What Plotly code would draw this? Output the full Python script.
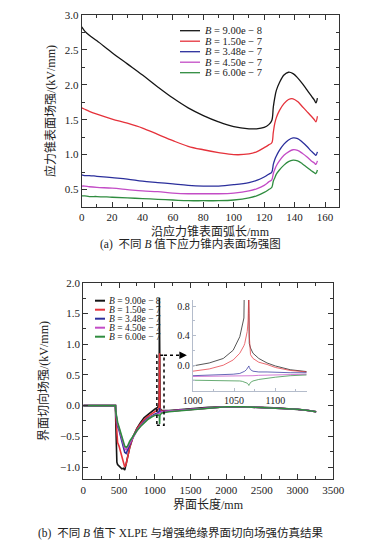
import plotly.graph_objects as go

W, H = 373, 545

# ---------------- data: (a) stress-cone surface field ----------------
B_labels = ["9.00e − 8", "1.50e − 7", "3.48e − 7", "4.50e − 7", "6.00e − 7"]
colors = ["#151515", "#e5323b", "#2b2f9c", "#c34cc6", "#2f8c3f"]

arc_mm = [0, 2, 5, 10, 20, 30, 40, 50, 60, 70, 80, 90, 100, 110, 115, 120, 123, 125,
          126, 127, 128, 130, 133, 136, 139, 142, 145, 148, 151, 153, 154, 155]
Ea_1 = [2.83, 2.77, 2.71, 2.63, 2.46, 2.30, 2.14, 1.97, 1.81, 1.67, 1.56, 1.47, 1.40, 1.37, 1.37, 1.39, 1.43, 1.49,
        1.68, 1.82, 1.92, 2.03, 2.14, 2.18, 2.16, 2.10, 2.02, 1.93, 1.84, 1.78, 1.74, 1.81]
Ea_2 = [1.67, 1.65, 1.62, 1.58, 1.51, 1.45, 1.38, 1.29, 1.20, 1.12, 1.07, 1.03, 1.00, 1.01, 1.04, 1.10, 1.14, 1.17,
        1.32, 1.45, 1.53, 1.63, 1.73, 1.79, 1.80, 1.76, 1.69, 1.62, 1.55, 1.50, 1.47, 1.55]
Ea_3 = [0.71, 0.70, 0.70, 0.69, 0.67, 0.65, 0.62, 0.60, 0.58, 0.56, 0.55, 0.55, 0.57, 0.60, 0.63, 0.68, 0.72, 0.75,
        0.86, 0.93, 0.98, 1.06, 1.15, 1.21, 1.24, 1.23, 1.18, 1.12, 1.05, 1.01, 0.99, 1.04]
Ea_4 = [0.55, 0.55, 0.54, 0.53, 0.52, 0.50, 0.48, 0.47, 0.45, 0.44, 0.44, 0.44, 0.45, 0.48, 0.51, 0.56, 0.61, 0.64,
        0.73, 0.79, 0.84, 0.91, 0.99, 1.04, 1.07, 1.06, 1.02, 0.97, 0.91, 0.88, 0.86, 0.91]
Ea_5 = [0.41, 0.41, 0.40, 0.40, 0.39, 0.38, 0.37, 0.36, 0.35, 0.34, 0.34, 0.34, 0.35, 0.38, 0.41, 0.46, 0.50, 0.53,
        0.62, 0.67, 0.72, 0.78, 0.85, 0.90, 0.92, 0.91, 0.87, 0.82, 0.77, 0.74, 0.73, 0.78]

# ---------------- data: (b) interface tangential field ----------------
len_mm = [0, 450, 455, 462, 470, 480, 500, 520, 540, 560,
          580, 600, 620, 650, 700, 750, 800, 850, 900, 950,
          1000, 1040, 1055, 1060, 1063, 1065, 1066, 1068, 1069, 1071,
          1075, 1090, 1100, 1200, 1300, 1500, 1750, 2000, 2250, 2500,
          2750, 3000, 3150, 3260]
Eb_1 = [0, 0, -0.30, -0.75, -0.92, -0.96, -0.98, -1.00, -1.03, -1.02,
        -1.05, -0.95, -0.85, -0.68, -0.50, -0.37, -0.28, -0.20, -0.15, -0.10,
        -0.06, -0.03, 0.0, 0.05, 0.30, 1.75, 1.00, 0.10, 0.0, -0.03,
        -0.05, -0.07, -0.08, -0.08, -0.07, -0.05, -0.03, -0.02, -0.02, -0.03,
        -0.04, -0.06, -0.08, -0.10]
Eb_2 = [0, 0, -0.15, -0.35, -0.55, -0.60, -0.66, -0.75, -0.85, -0.95,
        -1.00, -0.95, -0.85, -0.68, -0.50, -0.38, -0.30, -0.23, -0.18, -0.14,
        -0.10, -0.07, -0.04, -0.02, 0.10, 0.30, 0.50, 0.85, 0.30, 0.0,
        -0.06, -0.08, -0.09, -0.09, -0.08, -0.06, -0.04, -0.02, -0.02, -0.03,
        -0.04, -0.06, -0.08, -0.10]
Eb_3 = [0, 0, -0.12, -0.20, -0.28, -0.33, -0.40, -0.48, -0.58, -0.68,
        -0.76, -0.78, -0.72, -0.62, -0.50, -0.40, -0.32, -0.26, -0.21, -0.17,
        -0.14, -0.12, -0.11, -0.10, -0.09, -0.07, -0.06, -0.04, -0.06, -0.09,
        -0.10, -0.10, -0.10, -0.09, -0.08, -0.06, -0.04, -0.02, -0.02, -0.03,
        -0.04, -0.06, -0.08, -0.10]
Eb_4 = [0, 0, -0.12, -0.18, -0.25, -0.30, -0.37, -0.45, -0.54, -0.63,
        -0.70, -0.72, -0.68, -0.60, -0.50, -0.41, -0.33, -0.27, -0.22, -0.18,
        -0.15, -0.13, -0.13, -0.13, -0.13, -0.12, -0.12, -0.12, -0.12, -0.12,
        -0.11, -0.11, -0.10, -0.09, -0.08, -0.06, -0.04, -0.02, -0.02, -0.03,
        -0.04, -0.06, -0.08, -0.10]
Eb_5 = [0, 0, -0.10, -0.16, -0.22, -0.27, -0.35, -0.43, -0.52, -0.60,
        -0.66, -0.68, -0.66, -0.58, -0.49, -0.41, -0.34, -0.28, -0.23, -0.19,
        -0.16, -0.15, -0.15, -0.15, -0.16, -0.18, -0.20, -0.30, -0.22, -0.18,
        -0.15, -0.13, -0.12, -0.10, -0.09, -0.06, -0.04, -0.02, -0.02, -0.03,
        -0.04, -0.06, -0.08, -0.10]

# ---------------- data: (b) inset, zoom around 1000-1140 mm ----------------
inset_mm = [1000, 1020, 1037, 1049, 1057, 1060, 1062, 1063, 1065, 1066,
            1067, 1068, 1068.5, 1070, 1073, 1080, 1090, 1100, 1118, 1138]
Ei_1 = [0.0, 0.04, 0.10, 0.21, 0.39, 0.56, 0.64, 1.5, 1.5, 1.5,
        1.5, 0.70, 0.30, 0.24, 0.17, 0.10, 0.04, 0.0, -0.05, -0.075]
Ei_2 = [-0.07, -0.04, 0.01, 0.08, 0.17, 0.22, 0.27, 0.30, 0.40, 0.46,
        0.60, 1.0, 0.40, 0.15, 0.10, 0.05, 0.02, -0.02, -0.06, -0.08]
Ei_3 = [-0.13, -0.125, -0.12, -0.11, -0.10, -0.09, -0.08, -0.07, -0.05, -0.03,
        -0.01, 0.0, -0.02, -0.05, -0.07, -0.08, -0.08, -0.085, -0.09, -0.09]
Ei_4 = [-0.14, -0.14, -0.14, -0.135, -0.135, -0.135, -0.135, -0.13, -0.13, -0.13,
        -0.13, -0.13, -0.13, -0.13, -0.13, -0.125, -0.12, -0.12, -0.115, -0.11]
Ei_5 = [-0.19, -0.19, -0.195, -0.20, -0.20, -0.205, -0.21, -0.215, -0.22, -0.23,
        -0.24, -0.26, -0.25, -0.22, -0.20, -0.18, -0.16, -0.15, -0.13, -0.12]

zoom_box_x = [1030, 1130]
zoom_box_y = [-0.32, 0.82]
arrow_tip_x = 1450

Ea = [Ea_1, Ea_2, Ea_3, Ea_4, Ea_5]
Eb = [Eb_1, Eb_2, Eb_3, Eb_4, Eb_5]
Ei = [Ei_1, Ei_2, Ei_3, Ei_4, Ei_5]

SERIF = "Liberation Serif, Noto Sans CJK SC, serif"
CJK = "Liberation Serif, Noto Sans CJK SC, sans-serif"
AX = "#333333"


def px(x):
    return x / W


def py(y):
    return 1 - y / H


fig = go.Figure()
for vals, c in zip(Ea, colors):
    fig.add_trace(go.Scatter(x=arc_mm, y=vals, mode="lines", line=dict(color=c, width=1.3),
                             xaxis="x", yaxis="y", showlegend=False, line_shape="spline"))
for vals, c in zip(Eb, colors):
    fig.add_trace(go.Scatter(x=len_mm, y=vals, mode="lines", line=dict(color=c, width=1.6),
                             xaxis="x2", yaxis="y2", showlegend=False))
for vals, c in zip(Ei, colors):
    fig.add_trace(go.Scatter(x=inset_mm, y=vals, mode="lines", line=dict(color=c, width=0.9),
                             opacity=0.8, xaxis="x3", yaxis="y3", showlegend=False))

tickfont = dict(family=SERIF, size=11, color="#222")


def main_axis(domain, rng, dtick, minor, fmt=None, anchor=None):
    d = dict(domain=domain, range=rng, dtick=dtick, tick0=0, showline=True, linecolor=AX,
             linewidth=1.2, mirror="ticks", ticks="inside", ticklen=5, tickwidth=1, tickcolor=AX,
             minor=dict(ticks="inside", ticklen=3, dtick=minor, tickcolor=AX),
             showgrid=False, zeroline=False, tickfont=tickfont, automargin=False, anchor=anchor)
    if fmt:
        d["tickformat"] = fmt
    return d


fig.update_layout(
    width=W, height=H, margin=dict(l=0, r=0, t=0, b=0),
    paper_bgcolor="white", plot_bgcolor="white",
    xaxis=main_axis([px(81.7), px(338.7)], [0, 169], 20, 10, anchor="y"),
    yaxis=main_axis([py(207), py(15)], [0.25, 3.0], 0.5, 0.25, ".1f", anchor="x"),
    xaxis2=main_axis([px(83.3), px(333.3)], [0, 3500], 500, 250, anchor="y2"),
    yaxis2=main_axis([py(479.3), py(282.7)], [-1.2, 2.0], 0.5, 0.25, ".1f", anchor="x2"),
    xaxis3=dict(domain=[px(192.7), px(306.7)], range=[1000, 1138], anchor="y3",
                tickvals=[1000, 1050, 1100], showline=True, linecolor="#b4bccb", linewidth=1,
                ticks="inside", ticklen=3, tickcolor="#b4bccb",
                minor=dict(ticks="inside", ticklen=2, dtick=25, tick0=1000, tickcolor="#b4bccb"),
                showgrid=False, zeroline=False, tickfont=dict(family=SERIF, size=10, color="#222"),
                automargin=False),
    yaxis3=dict(domain=[py(390.7), py(300)], range=[-0.33, 0.88], anchor="x3",
                tickvals=[0.0, 0.4, 0.8], tickformat=".1f", showline=True, linecolor="#b4bccb",
                linewidth=1, ticks="inside", ticklen=3, tickcolor="#b4bccb",
                minor=dict(ticks="inside", ticklen=2, dtick=0.2, tick0=0, tickcolor="#b4bccb"),
                showgrid=False, zeroline=False, tickfont=dict(family=SERIF, size=10, color="#222"),
                automargin=False),
)

shapes = []
annotations = []

# zoom box and dotted arrow (panel b)
shapes.append(dict(type="rect", xref="x2", yref="y2", x0=zoom_box_x[0], x1=zoom_box_x[1],
                   y0=zoom_box_y[0], y1=zoom_box_y[1], line=dict(color="black", width=1.5, dash="dot")))
shapes.append(dict(type="line", xref="x2", yref="y2", x0=zoom_box_x[1], x1=arrow_tip_x - 80,
                   y0=zoom_box_y[1], y1=zoom_box_y[1], line=dict(color="black", width=1.5, dash="dot")))
annotations.append(dict(xref="x2", yref="y2", x=arrow_tip_x, y=zoom_box_y[1], ax=-8, ay=0,
                        text="", showarrow=True, arrowhead=2, arrowsize=1, arrowwidth=1.5,
                        arrowcolor="black"))

# legends (drawn manually to match compact spacing)
for i, (lab, c) in enumerate(zip(B_labels, colors)):
    yy = 30.7 + 10.5 * i
    shapes.append(dict(type="line", xref="paper", yref="paper", x0=px(180), x1=px(200),
                       y0=py(yy), y1=py(yy), line=dict(color=c, width=1.3)))
    annotations.append(dict(xref="paper", yref="paper", x=px(203), y=py(yy), xanchor="left",
                            yanchor="middle", showarrow=False, text="<i>B</i> = " + lab,
                            font=dict(family=SERIF, size=10.5, color="#222")))
    yb = 300.7 + 9 * i
    shapes.append(dict(type="line", xref="paper", yref="paper", x0=px(95), x1=px(105),
                       y0=py(yb), y1=py(yb), line=dict(color=c, width=2)))
    annotations.append(dict(xref="paper", yref="paper", x=px(107), y=py(yb), xanchor="left",
                            yanchor="middle", showarrow=False, text="<i>B</i> = " + lab,
                            font=dict(family=SERIF, size=9.5, color="#222")))


def label(text, x, y, size=12, angle=0):
    annotations.append(dict(xref="paper", yref="paper", x=px(x), y=py(y), xanchor="center",
                            yanchor="middle", showarrow=False, text=text, textangle=angle,
                            font=dict(family=CJK, size=size, color="#222")))


label("应力锥表面场强/(kV/mm)", 50, 111, 12, -90)
label("沿应力锥表面弧长/mm", 210, 231.5, 12)
label("(a)  不同 <i>B</i> 值下应力锥内表面场强图", 190, 244, 11.5)
label("界面切向场强/(kV/mm)", 43, 381, 12, -90)
label("界面长度/mm", 208.5, 504, 12)
label("(b)  不同 <i>B</i> 值下 XLPE 与增强绝缘界面切向场强仿真结果", 180, 533, 11.5)

fig.update_layout(shapes=shapes, annotations=annotations)
fig.write_html("out.html", config={"displayModeBar": False},
               post_script="document.body.style.margin='0';document.body.style.overflow='hidden';")
